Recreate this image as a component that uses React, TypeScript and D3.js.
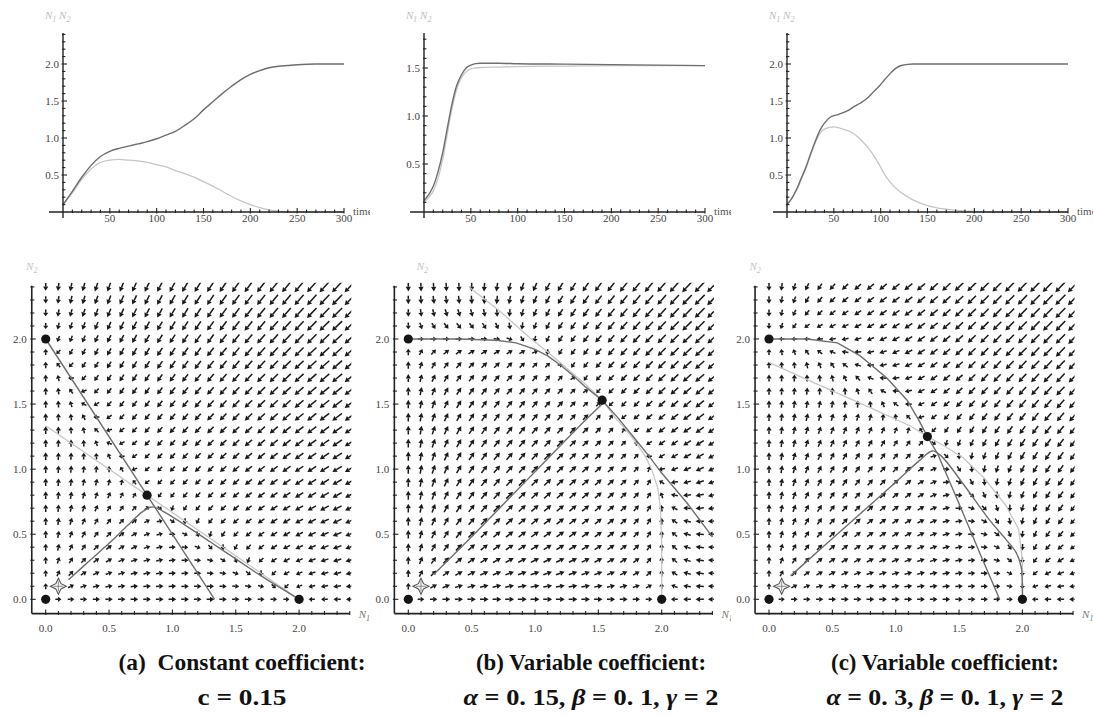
import React from "react";
import * as d3 from "d3";

type Pt = [number, number];

// ---------- time series: [time, density] ----------
const n1SeriesA: Pt[] = [[0,0.1],[10,0.28],[20,0.47],[30,0.63],[40,0.75],[50,0.82],[60,0.86],[70,0.89],[80,0.92],[90,0.95],[100,0.99],[110,1.04],[120,1.09],[130,1.17],[140,1.26],[150,1.38],[160,1.49],[170,1.6],[180,1.7],[190,1.79],[200,1.86],[210,1.91],[220,1.95],[230,1.97],[240,1.98],[250,1.99],[270,2.0],[300,2.0]];
const n2SeriesA: Pt[] = [[0,0.1],[10,0.26],[20,0.44],[30,0.58],[40,0.67],[50,0.7],[60,0.71],[70,0.7],[80,0.69],[90,0.67],[100,0.64],[110,0.61],[120,0.56],[130,0.52],[140,0.47],[150,0.41],[160,0.35],[170,0.28],[180,0.21],[190,0.15],[200,0.1],[210,0.06],[220,0.03],[230,0.01],[240,0.0],[300,0.0]];

const n1SeriesB: Pt[] = [[0,0.12],[5,0.18],[10,0.27],[15,0.42],[20,0.62],[25,0.88],[30,1.13],[35,1.32],[40,1.43],[45,1.5],[50,1.53],[55,1.545],[60,1.55],[80,1.55],[100,1.545],[150,1.54],[200,1.535],[250,1.53],[300,1.525]];
const n2SeriesB: Pt[] = [[0,0.1],[5,0.15],[10,0.22],[15,0.35],[20,0.55],[25,0.82],[30,1.08],[35,1.28],[40,1.4],[45,1.46],[50,1.49],[55,1.5],[60,1.505],[80,1.51],[100,1.515],[150,1.52],[200,1.525],[300,1.525]];

const n1SeriesC: Pt[] = [[0,0.1],[5,0.18],[10,0.3],[15,0.45],[20,0.6],[25,0.78],[30,0.95],[35,1.1],[40,1.2],[46,1.28],[55,1.32],[65,1.37],[71,1.42],[78,1.47],[85,1.53],[92,1.62],[99,1.71],[105,1.8],[110,1.87],[116,1.94],[122,1.98],[135,2.0],[300,2.0]];
const n2SeriesC: Pt[] = [[0,0.1],[10,0.29],[20,0.58],[30,0.93],[35,1.06],[40,1.12],[50,1.15],[60,1.12],[71,1.06],[80,0.96],[89,0.83],[98,0.65],[106,0.47],[114,0.35],[121,0.27],[135,0.16],[149,0.09],[163,0.05],[177,0.03],[199,0.01],[220,0.0],[300,0.0]];

// ---------- phase plane: N2-nullcline N2 = F(N1) (the N1-nullcline is its mirror) ----------
const nullclineA: Pt[] = [[0,2],[1.3333,0],[2.4,-1.6]];
const nullclineB: Pt[] = [[0,2],[0.4,2.0],[0.7,1.99],[0.85,1.97],[1.0,1.92],[1.1,1.87],[1.2,1.8],[1.3,1.72],[1.4,1.63],[1.53,1.53],[1.65,1.4],[1.8,1.22],[1.9,1.1],[2.0,0.97],[2.2,0.74],[2.4,0.48]];
const nullclineC: Pt[] = [[0,2],[0.3,2.0],[0.54,1.97],[0.72,1.87],[0.93,1.7],[1.09,1.53],[1.18,1.38],[1.25,1.25],[1.33,1.12],[1.48,0.78],[1.58,0.55],[1.67,0.34],[1.75,0.16],[1.82,0],[2.0,-0.41],[2.4,-1.33]];

// trajectories (N1, N2)
const trajectoryA: Pt[] = [[0.18,0.15],[0.35,0.3],[0.5,0.43],[0.65,0.57],[0.76,0.67],[0.84,0.71],[0.92,0.68],[1.1,0.57],[1.3,0.44],[1.5,0.31],[1.7,0.18],[1.85,0.09],[2.0,0.0]];
const trajectoryB: Pt[] = [[0.2,0.19],[0.5,0.48],[0.8,0.78],[1.1,1.08],[1.35,1.33],[1.53,1.5]];
const trajectoryC: Pt[] = [[0.17,0.18],[0.4,0.38],[0.7,0.64],[1.0,0.9],[1.18,1.06],[1.29,1.14],[1.36,1.1],[1.53,0.89],[1.74,0.61],[1.87,0.46],[1.95,0.36],[1.99,0.25],[2.0,0.1],[2.0,0.0]];

// equilibria
const equilibriaA: Pt[] = [[0,0],[0,2],[2,0],[0.8,0.8]];
const equilibriaB: Pt[] = [[0,0],[0,2],[2,0],[1.53,1.53]];
const equilibriaC: Pt[] = [[0,0],[0,2],[2,0],[1.25,1.25]];

const initialPoint: Pt = [0.1, 0.1];

// tick values
const timeTicks = [50, 100, 150, 200, 250, 300];
const densityTicksAC = [0.5, 1.0, 1.5, 2.0];
const densityTicksB = [0.5, 1.0, 1.5];
const phaseTicks = [0.0, 0.5, 1.0, 1.5, 2.0];
const gridSteps = d3.range(0, 25).map((i) => i / 10);

const captionTitles = ["(a)  Constant coefficient:", "(b) Variable coefficient:", "(c) Variable coefficient:"];
type Seg = { t: string; it?: boolean };
const captionParams: Seg[][] = [
  [{ t: "c = 0.15" }],
  [{ t: "α", it: true }, { t: " = 0. 15, " }, { t: "β", it: true }, { t: " = 0. 1, " }, { t: "γ", it: true }, { t: " = 2" }],
  [{ t: "α", it: true }, { t: " = 0. 3, " }, { t: "β", it: true }, { t: " = 0. 1, " }, { t: "γ", it: true }, { t: " = 2" }],
];

const SERIF = "Times New Roman, Liberation Serif, Tinos, serif";
const DARK = "#6e6e6e";
const FAINT = "#c6c6c6";

function interp(points: Pt[], x: number): number {
  const n = points.length;
  let i = 0;
  if (x <= points[0][0]) i = 0;
  else if (x >= points[n - 1][0]) i = n - 2;
  else while (points[i + 1][0] < x) i++;
  const [x0, y0] = points[i];
  const [x1, y1] = points[i + 1];
  return y0 + ((y1 - y0) * (x - x0)) / (x1 - x0);
}

type TopCfg = { id: string; ox: number; unit: number; ticks: number[]; n1: Pt[]; n2: Pt[]; clipL: number; clipR: number };

function TimePanel({ cfg }: { cfg: TopCfg }) {
  const x = d3.scaleLinear().domain([0, 300]).range([cfg.ox, cfg.ox + 281]);
  const y = d3.scaleLinear().domain([0, 1]).range([212, 212 - cfg.unit]);
  const yTop = y.invert(33);
  const line = d3.line<Pt>().x((d) => x(d[0])).y((d) => y(d[1])).curve(d3.curveMonotoneX);
  const minorY = d3.range(1, Math.floor(yTop * 10 + 1e-6) + 1).map((i) => i / 10);
  const minorX = d3.range(1, 31).map((i) => i * 10);
  return (
    <g>
      <clipPath id={cfg.id}>
        <rect x={cfg.clipL} y={0} width={cfg.clipR - cfg.clipL} height={260} />
      </clipPath>
      <text x={cfg.ox - 18} y={19} fontFamily={SERIF} fontStyle="italic" fontSize={11} fill="#bdbdbd">
        N<tspan fontSize={8} dy={3}>1</tspan><tspan dy={-3}> N</tspan><tspan fontSize={8} dy={3}>2</tspan>
      </text>
      <path d={line(cfg.n2) ?? ""} fill="none" stroke={FAINT} strokeWidth={1.3} />
      <path d={line(cfg.n1) ?? ""} fill="none" stroke={DARK} strokeWidth={1.4} />
      {/* axes */}
      <line x1={x(0)} x2={x(0)} y1={218} y2={33} stroke="#222" strokeWidth={1.4} />
      <line x1={x(0) - 14} x2={x(300)} y1={y(0)} y2={y(0)} stroke="#222" strokeWidth={1.4} />
      {minorY.map((v) => {
        const major = Math.abs(v * 2 - Math.round(v * 2)) < 1e-6;
        return <line key={"my" + v} x1={x(0) - (major ? 1.5 : 1)} x2={x(0) + (major ? 4 : 2.4)} y1={y(v)} y2={y(v)} stroke="#222" strokeWidth={1.1} />;
      })}
      {minorX.map((v) => {
        const major = v % 50 === 0;
        return <line key={"mx" + v} x1={x(v)} x2={x(v)} y1={y(0) + (major ? 1.5 : 1)} y2={y(0) - (major ? 4 : 2.4)} stroke="#222" strokeWidth={1.1} />;
      })}
      {cfg.ticks.map((v) => (
        <text key={"ly" + v} x={x(0) - 4} y={y(v) + 3.5} textAnchor="end" fontFamily={SERIF} fontSize={11} fill="#444">
          {v.toFixed(1)}
        </text>
      ))}
      {timeTicks.map((v) => (
        <text key={"lx" + v} x={x(v)} y={y(0) + 10} textAnchor="middle" fontFamily={SERIF} fontSize={11} fill="#444">
          {v}
        </text>
      ))}
      <g clipPath={`url(#${cfg.id})`}>
        <text x={x(300) + 9} y={y(0) + 3} fontFamily={SERIF} fontSize={11} fill="#555">time</text>
      </g>
    </g>
  );
}

type PhaseCfg = { id: string; ox: number; F: Pt[]; traj: Pt[]; eq: Pt[]; clipL: number; clipR: number; yLabelDx: number };

function PhasePanel({ cfg }: { cfg: PhaseCfg }) {
  const xs = d3.scaleLinear().domain([0, 2]).range([cfg.ox, cfg.ox + 253.4]);
  const ys = d3.scaleLinear().domain([0, 2]).range([599.3, 339]);
  const F = (v: number) => interp(cfg.F, v);
  const field = (a: number, b: number): Pt => [0.1 * a * (F(b) - a), 0.1 * b * (F(a) - b)];

  const cells: { cx: number; cy: number; v: Pt; m: number }[] = [];
  gridSteps.forEach((a) =>
    gridSteps.forEach((b) => {
      const v = field(a, b);
      const sx = v[0] * 126.7;
      const sy = -v[1] * 130.2;
      cells.push({ cx: xs(a), cy: ys(b), v: [sx, sy], m: Math.hypot(sx, sy) });
    })
  );
  const mmax = d3.max(cells, (c) => c.m) ?? 1;

  const arrows = cells
    .filter((c) => c.m > 1e-9)
    .map((c, i) => {
      const L = 4.5 + 10.5 * Math.pow(c.m / mmax, 0.45);
      const ux = c.v[0] / c.m;
      const uy = c.v[1] / c.m;
      const tx = c.cx - (ux * L) / 2, ty = c.cy - (uy * L) / 2;
      const hx = c.cx + (ux * L) / 2, hy = c.cy + (uy * L) / 2;
      const hl = Math.min(4.6, L * 0.55);
      const hw = 2.6;
      const bx = hx - ux * hl, by = hy - uy * hl;
      const nx = -uy, ny = ux;
      return (
        <g key={i}>
          <line x1={tx} y1={ty} x2={bx} y2={by} stroke="#1a1a1a" strokeWidth={1.5} />
          <path d={`M${hx},${hy}L${bx + nx * hw},${by + ny * hw}L${bx - nx * hw},${by - ny * hw}Z`} fill="#1a1a1a" />
        </g>
      );
    });

  const lineGen = d3.line<Pt>().x((d) => xs(d[0])).y((d) => ys(d[1]));
  const ncPts = cfg.F.filter((p) => p[1] >= -1e-9);
  const mirrorPts = ncPts.map((p) => [p[1], p[0]] as Pt);
  const trajGen = d3.line<Pt>().x((d) => xs(d[0])).y((d) => ys(d[1])).curve(d3.curveCatmullRom);

  const left = xs(-0.11);
  const bottom = ys(-0.11);
  const right = xs(2.4);
  const top = ys(2.41);
  const minor = d3.range(0, 25).map((i) => i / 10);

  const [px, py] = [xs(initialPoint[0]), ys(initialPoint[1])];

  return (
    <g>
      <clipPath id={cfg.id + "-plot"}>
        <rect x={left} y={top - 3} width={right - left + 1.5} height={bottom - top + 3} />
      </clipPath>
      <clipPath id={cfg.id + "-panel"}>
        <rect x={cfg.clipL} y={260} width={cfg.clipR - cfg.clipL} height={380} />
      </clipPath>
      <g clipPath={`url(#${cfg.id}-plot)`}>
        {arrows}
        <path d={lineGen(mirrorPts) ?? ""} fill="none" stroke={FAINT} strokeWidth={1.3} />
        <path d={lineGen(ncPts) ?? ""} fill="none" stroke={DARK} strokeWidth={1.4} />
        <path d={trajGen(cfg.traj) ?? ""} fill="none" stroke={DARK} strokeWidth={1.4} />
      </g>
      {cfg.eq.map((p, i) => (
        <circle key={i} cx={xs(p[0])} cy={ys(p[1])} r={4.6} fill="#151515" />
      ))}
      {/* initial point marker */}
      <path
        d={`M${px},${py - 8}L${px + 2.6},${py - 2.6}L${px + 8},${py}L${px + 2.6},${py + 2.6}L${px},${py + 8}L${px - 2.6},${py + 2.6}L${px - 8},${py}L${px - 2.6},${py - 2.6}Z`}
        fill="#f4f4f4"
        stroke="#555"
        strokeWidth={1.1}
      />
      <line x1={px - 5} x2={px + 5} y1={py} y2={py} stroke="#777" strokeWidth={0.8} />
      <line x1={px} x2={px} y1={py - 5} y2={py + 5} stroke="#777" strokeWidth={0.8} />
      {/* axes */}
      <line x1={left} x2={left} y1={bottom} y2={top} stroke="#222" strokeWidth={1.6} />
      <line x1={left} x2={right} y1={bottom} y2={bottom} stroke="#222" strokeWidth={1.6} />
      {minor.map((v) => {
        const major = Math.abs(v * 2 - Math.round(v * 2)) < 1e-6;
        return (
          <g key={"t" + v}>
            <line x1={left - 1.5} x2={left + (major ? 4 : 2.6)} y1={ys(v)} y2={ys(v)} stroke="#222" strokeWidth={1.1} />
            <line x1={xs(v)} x2={xs(v)} y1={bottom + 1.5} y2={bottom - (major ? 4 : 2.6)} stroke="#222" strokeWidth={1.1} />
          </g>
        );
      })}
      {phaseTicks.map((v) => (
        <g key={"l" + v}>
          <text x={left - 5} y={ys(v) + 3.5} textAnchor="end" fontFamily={SERIF} fontSize={11} fill="#444">
            {v.toFixed(1)}
          </text>
          <text x={xs(v)} y={bottom + 18} textAnchor="middle" fontFamily={SERIF} fontSize={11} fill="#444">
            {v.toFixed(1)}
          </text>
        </g>
      ))}
      <text x={left + cfg.yLabelDx} y={270} fontFamily={SERIF} fontStyle="italic" fontSize={11} fill="#c4c4c4" textAnchor="middle">
        N<tspan fontSize={8} dy={3}>2</tspan>
      </text>
      <g clipPath={`url(#${cfg.id}-panel)`}>
        <text x={right + 9} y={bottom + 4} fontFamily={SERIF} fontStyle="italic" fontSize={11} fill="#777">
          N<tspan fontSize={8} dy={3}>1</tspan>
        </text>
      </g>
    </g>
  );
}

const topPanels: TopCfg[] = [
  { id: "ta", ox: 63, unit: 74, ticks: densityTicksAC, n1: n1SeriesA, n2: n2SeriesA, clipL: 0, clipR: 370 },
  { id: "tb", ox: 424, unit: 96, ticks: densityTicksB, n1: n1SeriesB, n2: n2SeriesB, clipL: 370, clipR: 731 },
  { id: "tc", ox: 787, unit: 74, ticks: densityTicksAC, n1: n1SeriesC, n2: n2SeriesC, clipL: 731, clipR: 1093 },
];

const phasePanels: PhaseCfg[] = [
  { id: "pa", ox: 45.7, F: nullclineA, traj: trajectoryA, eq: equilibriaA, clipL: 0, clipR: 370, yLabelDx: 0 },
  { id: "pb", ox: 408.3, F: nullclineB, traj: trajectoryB, eq: equilibriaB, clipL: 370, clipR: 731, yLabelDx: 28 },
  { id: "pc", ox: 769, F: nullclineC, traj: trajectoryC, eq: equilibriaC, clipL: 731, clipR: 1093, yLabelDx: 0 },
];

const captionLayout = [
  { cx: 242, w1: 247, w2: 89 },
  { cx: 591, w1: 230, w2: 255 },
  { cx: 945, w1: 228, w2: 237 },
];

export default function App() {
  return (
    <svg width={1093} height={717} viewBox="0 0 1093 717" style={{ position: "absolute", left: 0, top: 0, background: "#fff" }}>
      <rect width={1093} height={717} fill="#fff" />
      {topPanels.map((c) => (
        <TimePanel key={c.id} cfg={c} />
      ))}
      {phasePanels.map((c) => (
        <PhasePanel key={c.id} cfg={c} />
      ))}
      {captionTitles.map((t, i) => (
        <g key={i} fontFamily={SERIF} fontWeight="bold" fontSize={24} fill="#111">
          <text x={captionLayout[i].cx} y={670} textAnchor="middle" textLength={captionLayout[i].w1} lengthAdjust="spacingAndGlyphs" style={{ whiteSpace: "pre" }}>
            {t}
          </text>
          <text x={captionLayout[i].cx} y={705} textAnchor="middle" textLength={captionLayout[i].w2} lengthAdjust="spacingAndGlyphs" style={{ whiteSpace: "pre" }}>
            {captionParams[i].map((s, j) => (
              <tspan key={j} fontStyle={s.it ? "italic" : "normal"}>
                {s.t}
              </tspan>
            ))}
          </text>
        </g>
      ))}
    </svg>
  );
}
